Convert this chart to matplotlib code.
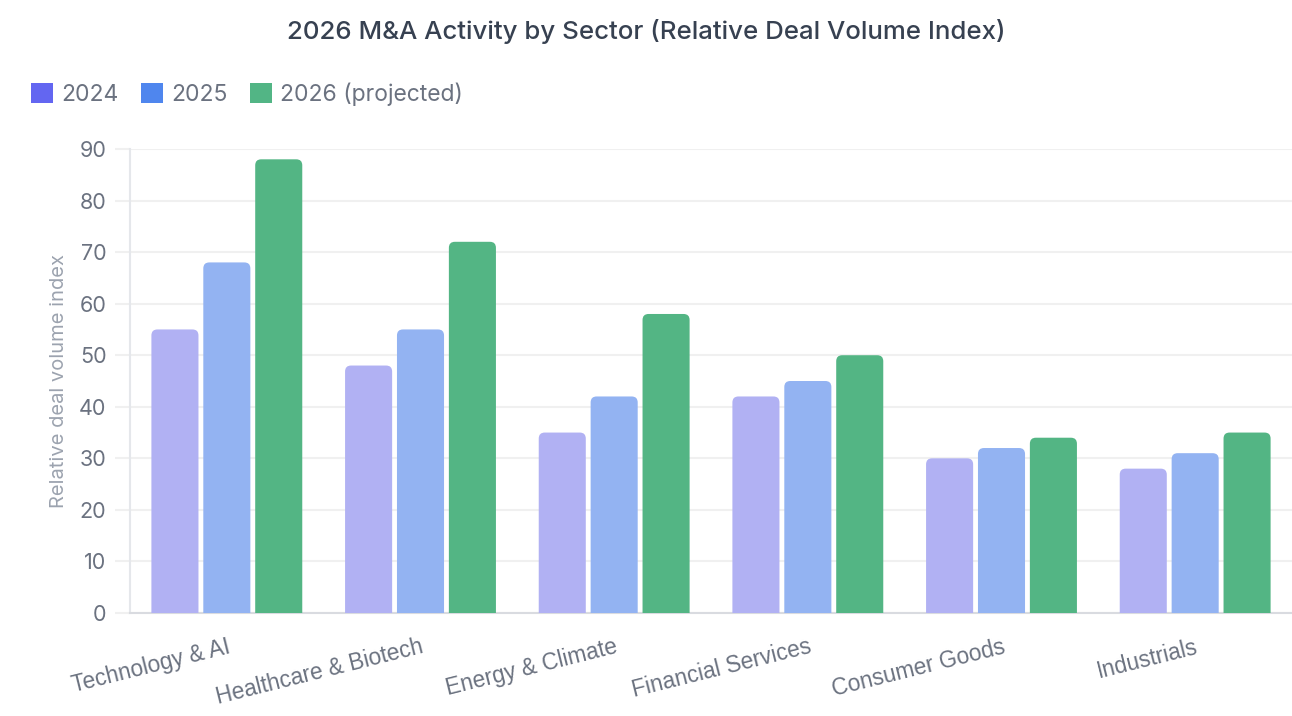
import matplotlib
matplotlib.use("Agg")
import matplotlib.pyplot as plt
from matplotlib.patches import Patch, FancyBboxPatch
import numpy as np

plt.rcParams['font.family'] = ['Inter', 'DejaVu Sans']

sectors = ['Technology & AI', 'Healthcare & Biotech', 'Energy & Climate',
           'Financial Services', 'Consumer Goods', 'Industrials']
series_names = ['2024', '2025', '2026 (projected)']
vals_2024 = [55, 48, 35, 42, 30, 28]
vals_2025 = [68, 55, 42, 45, 32, 31]
vals_2026 = [88, 72, 58, 50, 34, 35]

legend_colors = ['#6366F1', '#4F86EE', '#52B585']
bar_colors = ['#B1B1F3', '#93B3F2', '#53B584']

W, H = 1292, 716
fig = plt.figure(figsize=(W / 100, H / 100), dpi=100)
ax = fig.add_axes([130 / W, 1 - 613 / H, 1162 / W, (613 - 149) / H])

x = np.arange(len(sectors))
step = 0.268
width = 0.243
ax.set_xlim(-0.5, len(sectors) - 0.5)
ax.set_ylim(0, 90)

# rounded tops: px per data unit in x and y
px_x = 1162 / 6
px_y = (613 - 149) / 90
r = 6 / px_x
for i, vals in enumerate([vals_2024, vals_2025, vals_2026]):
    for xi, v in zip(x, vals):
        left = xi + (i - 1) * step - width / 2
        p = FancyBboxPatch((left, -3), width, v + 3,
                           boxstyle=f"round,pad=0,rounding_size={r}",
                           mutation_aspect=px_x / px_y,
                           facecolor=bar_colors[i], edgecolor='none', zorder=3)
        ax.add_patch(p)

ax.set_yticks(range(0, 91, 10))
ax.grid(axis='y', color='#f0f0f0', linewidth=1.5, zorder=0)
ax.tick_params(axis='y', length=11, color='#f0f0f0', width=1.5, labelsize=15.5,
               labelcolor='#6b7280', pad=6)
ax.tick_params(axis='x', length=0, labelcolor='#6b7280', pad=16)
ax.set_xticks(x)
ax.set_xticklabels(sectors, rotation=14, ha='right', rotation_mode='anchor',
                   family=['Liberation Sans', 'DejaVu Sans'], fontsize=16.3)

for s in ['top', 'right']:
    ax.spines[s].set_visible(False)
ax.spines['left'].set_color('#e5e7eb')
ax.spines['left'].set_linewidth(1.5)
ax.spines['bottom'].set_color('#d9dbe0')
ax.spines['bottom'].set_linewidth(1.5)

ax.set_ylabel('Relative deal volume index', fontsize=14.5, color='#9ca3af', labelpad=8)

fig.text(0.5, 1 - 32 / H, '2026 M&A Activity by Sector (Relative Deal Volume Index)',
         ha='center', va='center', fontsize=18.6, fontweight='medium', color='#374151')

handles = [Patch(facecolor=c, edgecolor='none') for c in legend_colors]
fig.legend(handles, series_names, loc='center left', bbox_to_anchor=(0.008, 1 - 94 / H),
           ncol=3, frameon=False, fontsize=16.5, labelcolor='#6b7280',
           handlelength=0.95, handleheight=0.95, handletextpad=0.35, columnspacing=1.0)

fig.savefig('out.png', dpi=100)
